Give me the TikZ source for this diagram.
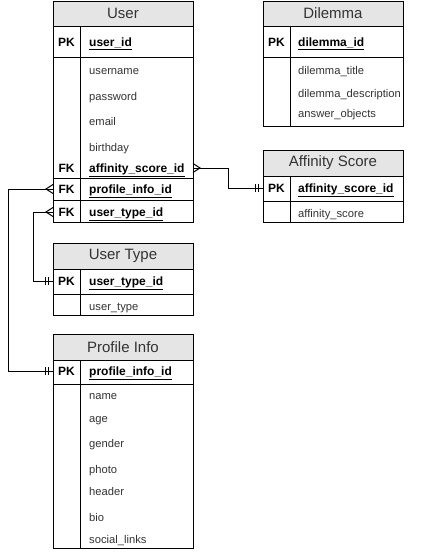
\documentclass[tikz,border=0pt]{standalone}
\usepackage{fontspec}
\setmainfont{Liberation Sans}
\usepackage{tikz}
\usetikzlibrary{positioning,calc}
\tikzset{
	tbl/.style={draw=black,line width=1pt},
	hd/.style={fill=black!10},
	ttl/.style={text=black!80,inner sep=0pt,font=\fontsize{15}{17}\selectfont},
	fld/.style={anchor=west,inner sep=0pt,text height=10pt,text depth=2pt,text=black!80,font=\fontsize{11.2}{13}\selectfont},
	key/.style={fld,text=black,font=\bfseries\fontsize{12}{14}\selectfont},
	tag/.style={inner sep=0pt,text height=10pt,text depth=2pt,font=\bfseries\fontsize{12}{14}\selectfont},
	lnk/.style={line width=1pt},
	manyend/.pic={\draw[lnk] (0,-4.5) -- (7,0) -- (0,4.5);},
	oneend/.pic={\draw[lnk] (-8,-4) -- (-8,4) (-5,-4) -- (-5,4);}
}

\begin{document}
\begin{tikzpicture}[x=1pt,y=-1pt]
\useasboundingbox (0,0) rectangle (424,552);

%Cadres des tables
\foreach \xl/\yt/\yh/\yb/\tname/\tid in {53/1/26/222/User/tU, 263/1/26/126/Dilemma/tD, 263/150/176/222/Affinity Score/tA, 53/243/269/315/User Type/tT, 53/334/360/548/Profile Info/tP} {
	\fill[hd] (\xl,\yt) rectangle (\xl+140,\yh);
	\draw[tbl] (\xl,\yt) rectangle (\xl+140,\yb);
	\draw[tbl] (\xl,\yh) -- (\xl+140,\yh);
	\draw[tbl] (\xl+27,\yh) -- (\xl+27,\yb);
	\node[ttl] (\tid) at (\xl+70,{(\yt+\yh)/2}) {\tname};
}

%Separations
\draw[tbl] (53,57) -- (193,57) (53,178) -- (193,178) (53,200) -- (193,200);
\draw[tbl] (263,57) -- (403,57);
\draw[tbl] (263,201) -- (403,201);
\draw[tbl] (53,294) -- (193,294);
\draw[tbl] (53,384) -- (193,384);

%User
\node[tag] (uPK) at (66.5,42) {PK};
\node[key] (uId) at (89,42) {\underline{user\_id}};
\node[fld] (uName) at (89,70) {username};
\node[fld] (uPass) at (89,96) {password};
\node[fld] (uMail) at (89,121) {email};
\node[fld] (uBirth) at (89,147) {birthday};
\node[tag] (uFK1) at (66.5,168) {FK};
\node[key] (uAffId) at (89,168) {\underline{affinity\_score\_id}};
\node[tag] (uFK2) at (66.5,189) {FK};
\node[key] (uProfId) at (89,189) {\underline{profile\_info\_id}};
\node[tag] (uFK3) at (66.5,212) {FK};
\node[key] (uTypeId) at (89,212) {\underline{user\_type\_id}};

%Dilemma
\node[tag] (dPK) at (276.5,42) {PK};
\node[key] (dId) at (298,42) {\underline{dilemma\_id}};
\node[fld] (dTitle) at (298,70) {dilemma\_title};
\node[fld] (dDesc) at (298,93) {dilemma\_description};
\node[fld] (dAns) at (298,113) {answer\_objects};

%Affinity Score
\node[tag] (aPK) at (276.5,188) {PK};
\node[key] (aId) at (298,188) {\underline{affinity\_score\_id}};
\node[fld] (aScore) at (298,213) {affinity\_score};

%User Type
\node[tag] (tPK) at (66.5,281) {PK};
\node[key] (tId) at (89,281) {\underline{user\_type\_id}};
\node[fld] (tType) at (89,306) {user\_type};

%Profile Info
\node[tag] (pPK) at (66.5,371) {PK};
\node[key] (pId) at (89,371) {\underline{profile\_info\_id}};
\node[fld] (pName) at (89,395) {name};
\node[fld] (pAge) at (89,418) {age};
\node[fld] (pGender) at (89,443) {gender};
\node[fld] (pPhoto) at (89,469) {photo};
\node[fld] (pHeader) at (89,491) {header};
\node[fld] (pBio) at (89,517) {bio};
\node[fld] (pLinks) at (89,539) {social\_links};

%Points d'attache
\coordinate (uAff) at (193,168);
\coordinate (uProf) at (53,189);
\coordinate (uType) at (53,212);
\coordinate (aKey) at (263,188);
\coordinate (tKey) at (53,281);
\coordinate (pKey) at (53,371);

%Liens
\draw[lnk] (uAff) -- ++(35,0) |- (aKey);
\draw[lnk] (uProf) -- ++(-45,0) |- (pKey);
\draw[lnk] (uType) -- ++(-20,0) |- (tKey);
\pic at (uAff) {manyend};
\pic[xscale=-1] at (uProf) {manyend};
\pic[xscale=-1] at (uType) {manyend};
\pic at (aKey) {oneend};
\pic at (tKey) {oneend};
\pic at (pKey) {oneend};

\end{tikzpicture}
\end{document}
